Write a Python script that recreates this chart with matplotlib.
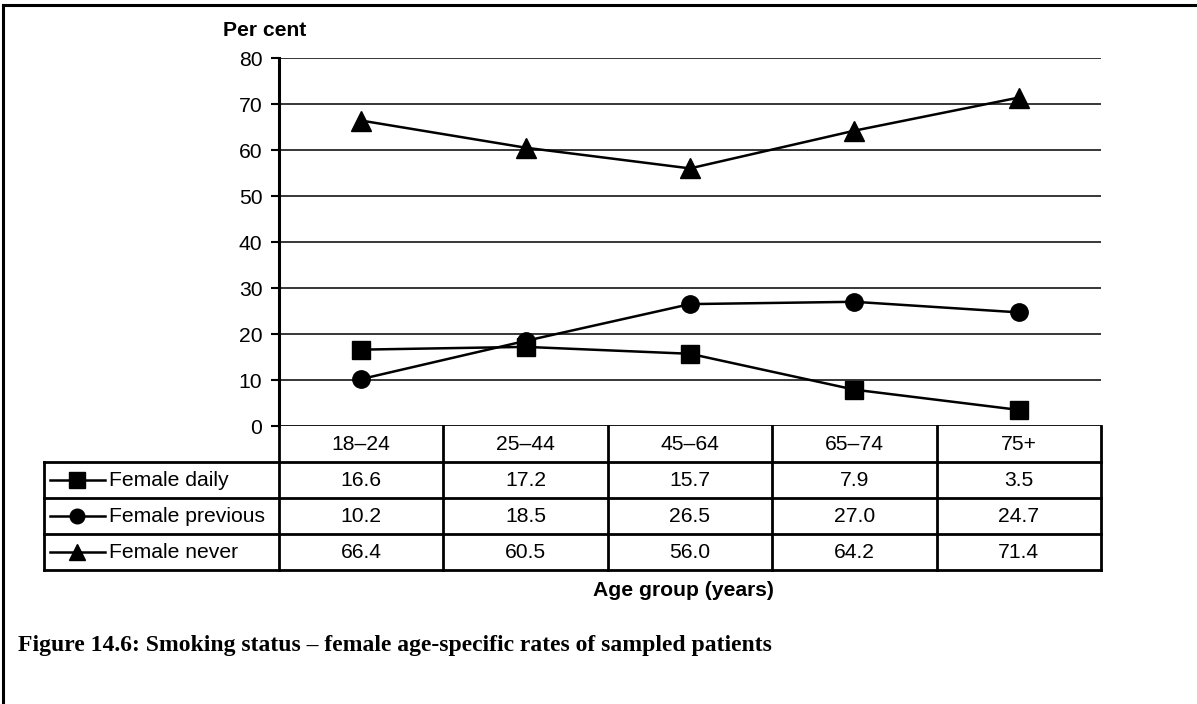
import matplotlib
matplotlib.use("Agg")
import matplotlib.pyplot as plt
from matplotlib.lines import Line2D

# ---- data ----
age_groups = ["18\u201324", "25\u201344", "45\u201364", "65\u201374", "75+"]
series_names = ["Female daily", "Female previous", "Female never"]
female_daily = [16.6, 17.2, 15.7, 7.9, 3.5]
female_previous = [10.2, 18.5, 26.5, 27.0, 24.7]
female_never = [66.4, 60.5, 56.0, 64.2, 71.4]
y_ticks = [0, 10, 20, 30, 40, 50, 60, 70, 80]
y_label = "Per cent"
x_label = "Age group (years)"
caption = "Figure 14.6: Smoking status \u2013 female age-specific rates of sampled patients"

series_values = [female_daily, female_previous, female_never]
markers = ["s", "o", "^"]
msizes = [13.5, 12.5, 14.5]
leg_msizes = [11, 10.5, 12]

plt.rcParams["font.family"] = ["Liberation Sans", "DejaVu Sans"]
FS = 15.2

W, H = 1197, 704
fig = plt.figure(figsize=(W / 100, H / 100), dpi=100)


def fx(px):
    return px / W


def fy(py):
    return 1 - py / H


# outer frame (top and left)
fig.add_artist(Line2D([fx(3), 1], [fy(5), fy(5)], color="black", lw=2.2, transform=fig.transFigure))
fig.add_artist(Line2D([fx(3), fx(3)], [fy(5), 0], color="black", lw=2.2, transform=fig.transFigure))

L, R, T, B = 279, 1101, 58, 426
ax = fig.add_axes([fx(L), fy(B), fx(R) - fx(L), fy(T) - fy(B)])
n = len(age_groups)
xs = list(range(n))
ax.set_xlim(-0.5, n - 0.5)
ax.set_ylim(y_ticks[0], y_ticks[-1])
ax.set_yticks(y_ticks)
ax.set_yticklabels([str(t) for t in y_ticks], fontsize=FS)
ax.set_xticks([])
for s in ["top", "right", "bottom"]:
    ax.spines[s].set_visible(False)
ax.spines["left"].set_linewidth(2.2)
ax.tick_params(axis="y", length=6, width=1.5, pad=6, direction="out")
for t in y_ticks:
    ax.axhline(t, color="black", lw=2.0 if t == 0 else 1.1, zorder=1)

for vals, m, ms in zip(series_values, markers, msizes):
    ax.plot(xs, vals, color="black", lw=1.8, marker=m, markersize=ms,
            markerfacecolor="black", markeredgecolor="black", zorder=3, clip_on=False)

fig.text(fx(265), fy(31), y_label, fontsize=FS, fontweight="bold", ha="center", va="center")

# ---- data table ----
TB = 570
tab = fig.add_axes([fx(L), fy(TB), fx(R) - fx(L), fy(B) - fy(TB)])
tab.set_xlim(-0.5, n - 0.5)
tab.set_ylim(4, 0)
tab.axis("off")
colw = (R - L) / n


def px2x(px):
    return (px - L) / colw - 0.5


xleft = px2x(44)
lw_t = 2.0
for r in range(1, 5):
    tab.plot([xleft, n - 0.5], [r, r], color="black", lw=lw_t, clip_on=False, solid_capstyle="projecting")
for k in range(n + 1):
    tab.plot([k - 0.5, k - 0.5], [0, 4], color="black", lw=lw_t, clip_on=False, solid_capstyle="projecting")
tab.plot([xleft, xleft], [1, 4], color="black", lw=lw_t, clip_on=False, solid_capstyle="projecting")

for i, g in enumerate(age_groups):
    tab.text(i, 0.5, g, fontsize=FS, ha="center", va="center")
for r, (name, vals, m, ms) in enumerate(zip(series_names, series_values, markers, leg_msizes)):
    yc = r + 1.5
    for i, v in enumerate(vals):
        tab.text(i, yc, f"{v:.1f}", fontsize=FS, ha="center", va="center")
    tab.plot([px2x(50), px2x(105)], [yc, yc], color="black", lw=1.8, clip_on=False)
    tab.plot([px2x(77)], [yc], marker=m, markersize=ms, color="black", clip_on=False)
    tab.text(px2x(109), yc, name, fontsize=FS, ha="left", va="center")

fig.text(fx(683), fy(590), x_label, fontsize=FS, fontweight="bold", ha="center", va="center")
fig.text(fx(18), fy(645), caption, fontsize=17, fontweight="bold", ha="left", va="center",
         family=["Liberation Serif", "DejaVu Serif"])

fig.savefig("out.png", dpi=100)
